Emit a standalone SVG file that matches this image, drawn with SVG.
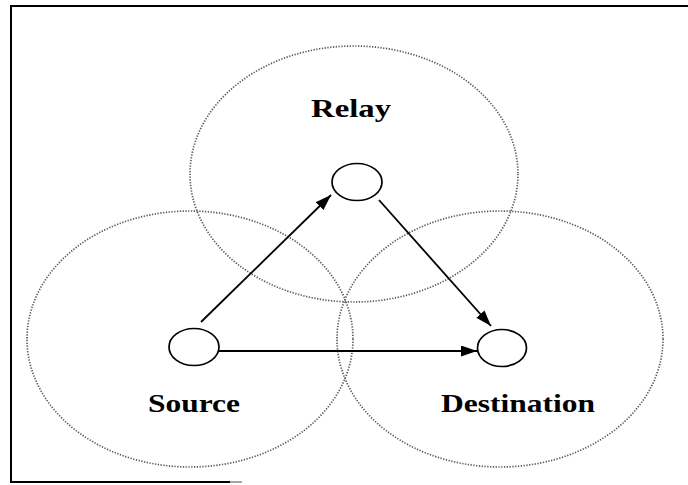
<svg xmlns="http://www.w3.org/2000/svg" width="688" height="485" viewBox="0 0 688 485">
  <style>
    .range { fill: none; stroke: #5a5a5a; stroke-width: 1.7; stroke-dasharray: 1.3 1.5; }
    .node { fill: #fff; stroke: #000; stroke-width: 1.7; }
    .label { font-family: "Liberation Serif", "Times New Roman", serif; font-weight: bold; font-size: 26px; fill: #000; }
    .edge { stroke: #000; stroke-width: 1.8; fill: none; marker-end: url(#arrow); }
    .frame { stroke: #000; stroke-width: 2; fill: none; }
  </style>
  <defs>
    <marker id="arrow" markerUnits="userSpaceOnUse" markerWidth="16" markerHeight="11" refX="16" refY="5.5" orient="auto">
      <path d="M0,0 L16,5.5 L0,11 z" fill="#000"/>
    </marker>
  </defs>
  <rect width="688" height="485" fill="#fff"/>
  <g id="frame">
    <path class="frame" d="M688,6 L11,6 L11,482 L230,482"/>
    <path d="M230,482 L242,482" stroke="#888" stroke-width="1.5"/>
  </g>
  <g id="ranges">
    <ellipse class="range" cx="354" cy="174" rx="164" ry="128"/>
    <ellipse class="range" cx="190" cy="339" rx="163" ry="128"/>
    <ellipse class="range" cx="500" cy="339" rx="163" ry="128"/>
  </g>
  <g id="connectors">
    <line class="edge" x1="201" y1="322" x2="331" y2="195"/>
    <line class="edge" x1="379" y1="200" x2="491" y2="326"/>
    <line class="edge" x1="219" y1="351" x2="477" y2="351"/>
  </g>
  <g id="relay">
    <ellipse class="node" cx="357" cy="182" rx="25" ry="18.5"/>
    <text class="label" x="311" y="117" textLength="80" lengthAdjust="spacingAndGlyphs">Relay</text>
  </g>
  <g id="source">
    <ellipse class="node" cx="194" cy="347" rx="25" ry="18.5"/>
    <text class="label" x="148" y="412" textLength="92" lengthAdjust="spacingAndGlyphs">Source</text>
  </g>
  <g id="destination">
    <ellipse class="node" cx="502" cy="348" rx="24.5" ry="18.5"/>
    <text class="label" x="441" y="412" textLength="154" lengthAdjust="spacingAndGlyphs">Destination</text>
  </g>
</svg>
